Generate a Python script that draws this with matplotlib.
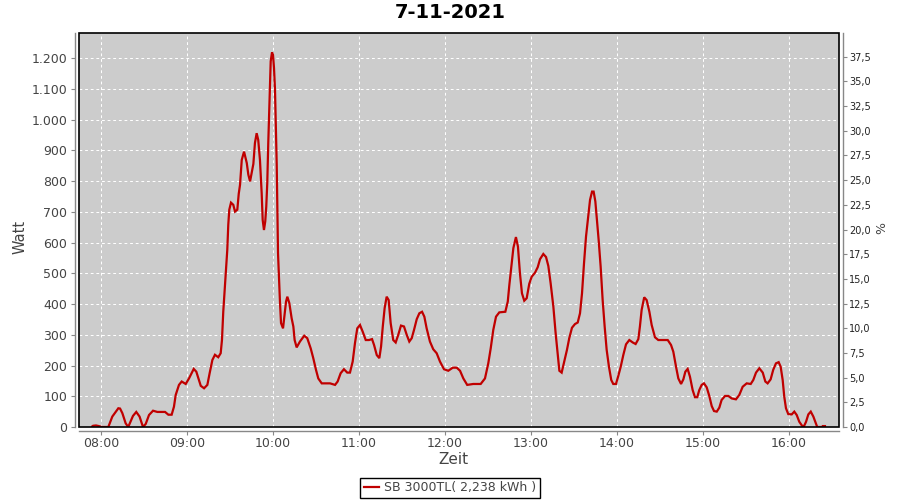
#!/usr/bin/env python3
# -*- coding: utf-8 -*-
import matplotlib

matplotlib.use("Agg")
import matplotlib.pyplot as plt
from matplotlib.patches import Rectangle
from matplotlib.ticker import FuncFormatter, FixedLocator

title = "7-11-2021"
series_label = "SB 3000TL( 2,238 kWh )"

# minutes since midnight
minutes = [
    473.9, 474.5, 476.5, 478.5, 480.5, 485.1, 487.9, 492.1, 493.3, 494.9,
    497.2, 499.0, 502.3, 504.6, 506.9, 509.3, 511.2, 513.5, 516.3, 519.3,
    524.7, 527.0, 529.3, 530.9, 532.1, 534.4, 536.3, 539.1, 541.4, 544.7,
    546.5, 549.6, 551.9, 554.2, 555.8, 557.7, 559.5, 561.8, 563.5, 564.4,
    565.3, 566.5, 567.2, 568.1, 568.8, 569.5, 570.7, 572.3, 573.5, 575.1,
    576.1, 577.0, 578.2, 579.8, 581.7, 582.8, 584.0, 585.1, 586.3, 587.4,
    588.6, 589.7, 590.9, 592.1, 592.8, 593.7, 594.6, 595.3, 596.0, 596.7,
    597.7, 598.4, 599.3, 600.0, 600.7, 601.4, 602.1, 602.6, 603.0, 603.5,
    604.2, 604.9, 605.6, 607.0, 607.9, 609.1, 610.0, 611.4, 613.0, 614.2,
    615.1, 616.5, 618.8, 621.8, 623.9, 626.3, 628.1, 630.0, 631.6, 634.0,
    637.5, 639.8, 643.3, 645.1, 647.2, 649.5, 651.8, 653.7, 655.6, 657.2,
    658.8, 660.7, 662.6, 664.7, 667.0, 669.1, 670.5, 672.4, 674.2, 675.4,
    676.6, 677.9, 679.3, 680.7, 682.1, 683.9, 685.6, 687.4, 689.3, 691.4,
    693.3, 695.1, 696.8, 698.4, 700.3, 702.1, 704.0, 705.6, 707.2, 709.5,
    711.8, 714.2, 716.5, 719.3, 722.3, 725.4, 728.2, 730.5, 732.8, 735.5,
    739.7, 744.9, 747.9, 750.2, 751.9, 753.7, 755.6, 757.9, 762.1, 763.8,
    764.9, 766.3, 767.7, 769.5, 770.9, 772.3, 773.7, 775.3, 777.0, 778.8,
    780.5, 782.8, 784.7, 786.3, 788.6, 790.5, 792.1, 793.7, 795.6, 797.2,
    798.6, 799.8, 801.4, 803.2, 805.1, 806.7, 808.6, 810.7, 812.6, 814.2,
    815.6, 817.0, 818.4, 819.8, 821.2, 822.6, 823.7, 824.9, 826.0, 827.2,
    828.6, 830.0, 831.4, 832.8, 834.4, 836.0, 837.4, 839.3, 840.9, 842.6,
    844.4, 846.3, 848.6, 851.0, 853.0, 854.9, 856.0, 857.2, 859.0, 860.7,
    862.6, 864.2, 866.5, 868.8, 872.3, 875.4, 877.7, 879.3, 881.2, 882.8,
    884.7, 886.3, 887.7, 889.3, 890.9, 892.8, 894.4, 896.0, 897.4, 899.1,
    900.7, 902.6, 904.4, 906.1, 907.7, 909.6, 911.4, 913.0, 915.4, 917.7,
    920.0, 923.0, 925.3, 927.7, 930.5, 933.3, 935.1, 937.0, 939.3, 941.7,
    943.5, 945.1, 947.2, 949.0, 950.9, 952.8, 954.2, 955.6, 956.7, 957.9,
    959.5, 961.9, 963.7, 965.4, 967.2, 969.3, 970.5, 971.9, 973.5, 975.2,
    977.0, 978.8, 979.7, 983.4, 983.6, 985.1,
]

watt = [
    2, 4, 5, 3, 0, 0, 34, 61, 60, 45,
    12, 0, 36, 49, 34, 0, 10, 39, 53, 49,
    49, 40, 40, 66, 104, 137, 148, 140, 158, 189,
    180, 134, 126, 137, 175, 218, 235, 227, 240, 283,
    375, 462, 511, 576, 658, 707, 730, 723, 701, 707,
    759, 788, 869, 896, 859, 821, 799, 826, 856, 924,
    956, 934, 869, 761, 674, 641, 669, 717, 793, 924,
    1087, 1190, 1219, 1211, 1168, 1097, 956, 853, 728, 566,
    484, 403, 338, 321, 359, 408, 424, 403, 354, 327,
    283, 259, 278, 297, 289, 256, 224, 186, 158, 142,
    142, 142, 137, 148, 175, 188, 177, 177, 213, 273,
    321, 332, 310, 283, 283, 286, 267, 234, 224, 262,
    327, 387, 424, 413, 338, 283, 275, 300, 330, 327,
    300, 278, 289, 316, 351, 370, 375, 359, 321, 278,
    253, 240, 213, 188, 183, 193, 193, 183, 158, 137,
    140, 140, 158, 207, 256, 316, 359, 373, 375, 408,
    462, 522, 582, 618, 587, 500, 435, 411, 419, 466,
    489, 502, 520, 546, 563, 553, 524, 468, 392, 305,
    240, 183, 177, 213, 251, 289, 323, 335, 340, 370,
    435, 533, 620, 680, 739, 766, 766, 734, 674, 609,
    522, 413, 327, 251, 196, 153, 140, 140, 166, 196,
    234, 269, 283, 275, 270, 286, 327, 381, 422, 413,
    375, 332, 292, 283, 283, 283, 267, 245, 196, 158,
    140, 155, 180, 189, 164, 120, 97, 97, 120, 137,
    142, 129, 101, 68, 52, 50, 63, 88, 101, 101,
    93, 90, 104, 131, 142, 140, 153, 177, 191, 177,
    148, 142, 155, 186, 207, 211, 196, 153, 99, 61,
    42, 41, 50, 39, 17, 3, 3, 17, 41, 50,
    34, 12, 0, 0, 3, 3,
]

hour_ticks = [480, 540, 600, 660, 720, 780, 840, 900, 960]
hour_labels = ["08:00", "09:00", "10:00", "11:00", "12:00",
               "13:00", "14:00", "15:00", "16:00"]
watt_ticks = list(range(0, 1300, 100))
pct_ticks = [i * 2.5 for i in range(16)]

GREY = "#444444"
AXIS_GREY = "#888888"


def main():
    fig = plt.figure(figsize=(9, 5), dpi=100)
    ax = fig.add_axes([79 / 900, 73 / 500, 760 / 900, 394 / 500])
    ax2 = ax.twinx()

    ax.set_facecolor("#cccccc")
    ax.plot(minutes, watt, color="#c00000", lw=1.6, label=series_label,
            solid_joinstyle="miter")

    ax.set_xlim(464.65, 994.9)
    ax.set_ylim(0, 1282)
    ax2.set_ylim(0, 39.9)

    ax.xaxis.set_major_locator(FixedLocator(hour_ticks))
    ax.set_xticklabels(hour_labels)
    ax.yaxis.set_major_locator(FixedLocator(watt_ticks))
    ax.yaxis.set_major_formatter(FuncFormatter(lambda v, p: f"{int(v):,}".replace(",", ".")))
    ax2.yaxis.set_major_locator(FixedLocator(pct_ticks))
    ax2.yaxis.set_major_formatter(FuncFormatter(lambda v, p: f"{v:.1f}".replace(".", ",")))

    ax.set_axisbelow(True)
    ax.grid(True, color="white", lw=0.75, ls=(0, (2.7, 2.7)))

    for a in (ax, ax2):
        for s in a.spines.values():
            s.set_visible(False)
    for side, a in (("left", ax), ("bottom", ax), ("right", ax2)):
        a.spines[side].set_visible(True)
        a.spines[side].set_position(("outward", 3))
        a.spines[side].set_color(AXIS_GREY)
        a.spines[side].set_linewidth(1)

    ax.tick_params(axis="y", length=3, width=0.8, color=AXIS_GREY, labelsize=9,
                   labelcolor=GREY, pad=2.5)
    ax.tick_params(axis="x", length=3, width=0.8, color=AXIS_GREY, labelsize=9,
                   labelcolor=GREY, pad=1.5)
    ax2.tick_params(axis="y", length=3, width=0.8, color=AXIS_GREY, labelsize=7,
                    labelcolor="#222222", pad=1.5)

    # black frame round the plot area
    ax2.add_patch(Rectangle((0, 0), 1, 1, transform=ax2.transAxes, fill=False,
                            ec="black", lw=1.2, clip_on=False, zorder=10))

    fig.text(20 / 900, 1 - 237 / 500, "Watt", rotation=90, ha="center", va="center",
             fontsize=10.5, color=GREY)
    fig.text(882 / 900, 1 - 228 / 500, "%", rotation=90, ha="center", va="center",
             fontsize=9, color=GREY)
    fig.text(453 / 900, 1 - 460 / 500, "Zeit", ha="center", va="center",
             fontsize=11, color=GREY)
    fig.text(450 / 900, 1 - 13 / 500, title, ha="center", va="center",
             fontsize=14, fontweight="bold")

    leg = fig.legend(loc="center", bbox_to_anchor=(450 / 900, 1 - 488 / 500),
                     fontsize=9, frameon=True, fancybox=False, framealpha=1,
                     edgecolor="black", handlelength=1.2, handletextpad=0.4,
                     borderpad=0.3, borderaxespad=0)
    leg.get_frame().set_linewidth(1)
    for t in leg.get_texts():
        t.set_color(GREY)

    fig.savefig("out.png", dpi=100)


if __name__ == "__main__":
    main()
